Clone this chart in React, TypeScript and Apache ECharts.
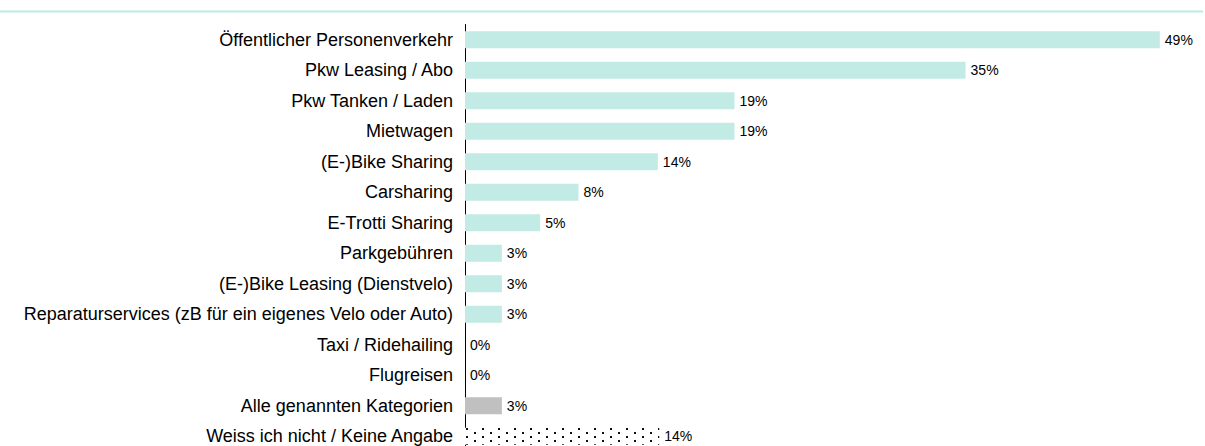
import React, { useEffect, useRef } from "react";
import * as echarts from "echarts";

const categories = [
  "Öffentlicher Personenverkehr",
  "Pkw Leasing / Abo",
  "Pkw Tanken / Laden",
  "Mietwagen",
  "(E-)Bike Sharing",
  "Carsharing",
  "E-Trotti Sharing",
  "Parkgebühren",
  "(E-)Bike Leasing (Dienstvelo)",
  "Reparaturservices (zB für ein eigenes Velo oder Auto)",
  "Taxi / Ridehailing",
  "Flugreisen",
  "Alle genannten Kategorien",
  "Weiss ich nicht / Keine Angabe",
];
const values = [49, 35.3, 19, 19, 13.6, 8, 5.3, 2.6, 2.6, 2.6, 0, 0, 2.6, 13.7];
const labels = ["49%", "35%", "19%", "19%", "14%", "8%", "5%", "3%", "3%", "3%", "0%", "0%", "3%", "14%"];
const kinds = ["main", "main", "main", "main", "main", "main", "main", "main", "main", "main", "main", "main", "all", "dk"];

function makeDots(): HTMLCanvasElement {
  const c = document.createElement("canvas");
  c.width = 16;
  c.height = 8;
  const ctx = c.getContext("2d")!;
  ctx.fillStyle = "#ffffff";
  ctx.fillRect(0, 0, 16, 8);
  ctx.fillStyle = "#111111";
  ctx.fillRect(2, 4, 2, 2);
  ctx.fillRect(10, 0, 2, 2);
  return c;
}

export default function App() {
  const ref = useRef<HTMLDivElement>(null);
  useEffect(() => {
    document.body.style.margin = "0";
    const chart = echarts.init(ref.current!, null, { renderer: "svg" });
    const dots = makeDots();
    const data = values.map((v, i) => {
      const k = kinds[i];
      if (k === "all") return { value: v, itemStyle: { color: "#c0c0c0" } };
      if (k === "dk")
        return {
          value: v,
          itemStyle: { color: { image: dots, repeat: "repeat" } },
        };
      return { value: v, itemStyle: { color: "#c2ebe6" } };
    });
    const font = "Liberation Sans, Arial, sans-serif";
    chart.setOption({
      animation: false,
      textStyle: { fontFamily: font },
      graphic: [
        {
          type: "rect",
          shape: { x: 0, y: 10.5, width: 1203, height: 2 },
          style: { fill: "#b8ebe9" },
        },
      ],
      grid: { left: 465, width: 709, top: 24.5, height: 427, containLabel: false },
      xAxis: { type: "value", min: 0, max: 50, show: false },
      yAxis: {
        type: "category",
        inverse: true,
        data: categories,
        axisLine: { show: true, lineStyle: { color: "#000", width: 1 } },
        axisTick: { show: false },
        axisLabel: { color: "#000", fontSize: 18, margin: 12, fontFamily: font },
      },
      series: [
        {
          type: "bar",
          data,
          barWidth: 17,
          label: {
            show: true,
            position: "right",
            distance: 5,
            color: "#000",
            fontSize: 14,
            fontFamily: font,
            formatter: (p: any) => labels[p.dataIndex],
          },
        },
      ],
    });
    return () => chart.dispose();
  }, []);
  return <div ref={ref} style={{ width: 1205, height: 460 }} />;
}
